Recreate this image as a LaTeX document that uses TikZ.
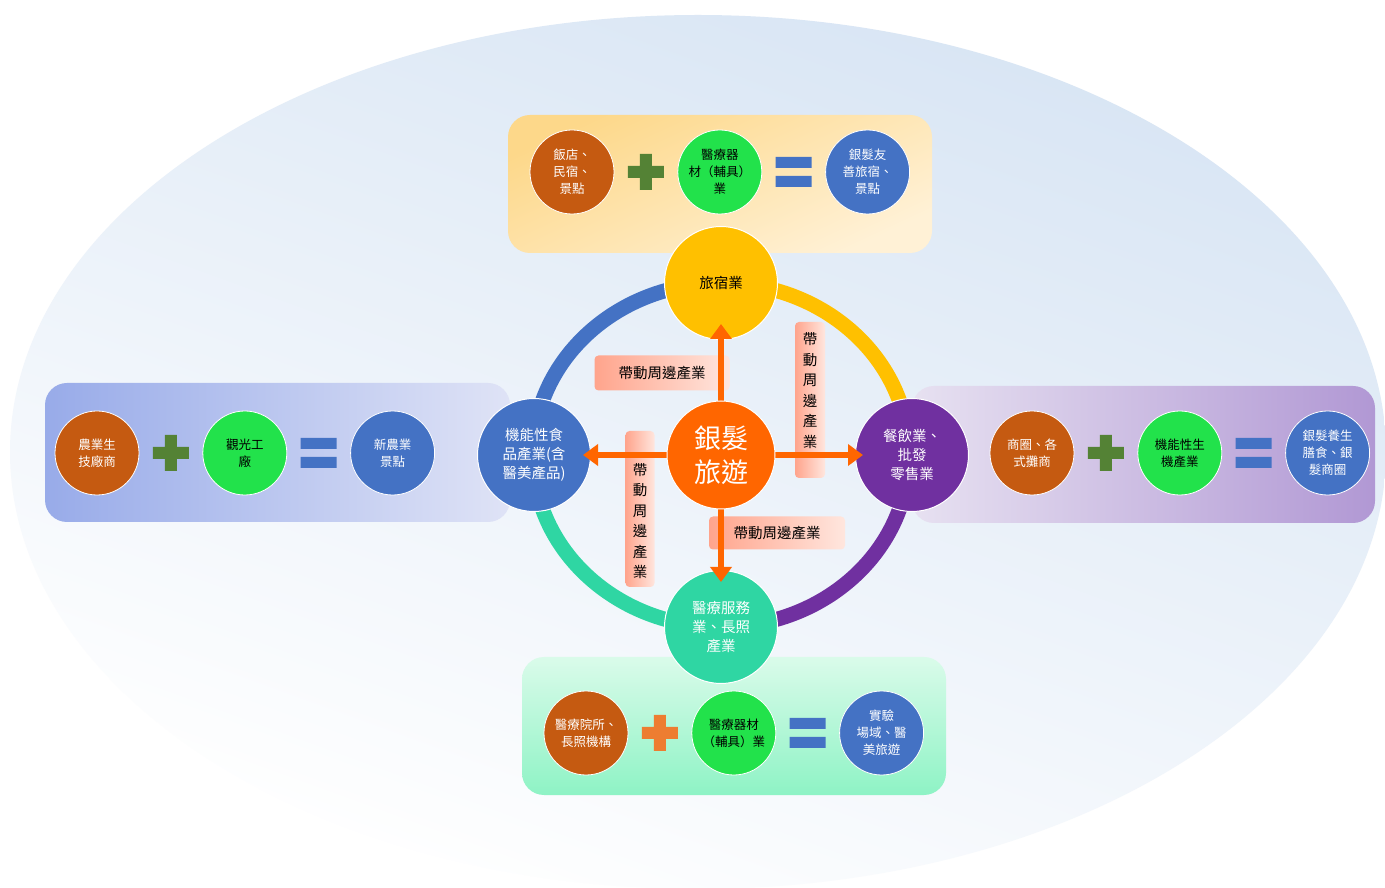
\documentclass[tikz,border=0pt]{standalone}
\usepackage{fontspec}
\setmainfont{Noto Sans CJK TC}
\usetikzlibrary{arrows.meta, positioning, calc}

\definecolor{skyA}{HTML}{D8E5F4}
\definecolor{brownC}{HTML}{C55A11}
\definecolor{greenC}{HTML}{22E24B}
\definecolor{blueC}{HTML}{4472C4}
\definecolor{plusgreen}{HTML}{548235}
\definecolor{plusorange}{HTML}{ED7D31}
\definecolor{ringgold}{HTML}{FFC000}
\definecolor{ringteal}{HTML}{2FD6A3}
\definecolor{ringpurple}{HTML}{7030A0}
\definecolor{hubor}{HTML}{FF6600}
\definecolor{tagA}{HTML}{FFA48C}
\definecolor{tagB}{HTML}{FFE6DE}
\definecolor{topA}{HTML}{FDD88A}
\definecolor{topB}{HTML}{FFF1D6}
\definecolor{leftA}{HTML}{98ABE9}
\definecolor{leftB}{HTML}{DFE3F6}
\definecolor{rightA}{HTML}{E7E1F1}
\definecolor{rightB}{HTML}{B198D4}
\definecolor{lowA}{HTML}{DAFBEA}
\definecolor{lowB}{HTML}{8EF3C5}

\tikzset{
  industry/.style={circle, draw=white, line width=1pt, minimum size=113pt, inner sep=0pt,
    align=center, text=white, font=\fontsize{14.5}{19}\selectfont},
  partner/.style={circle, draw=white, line width=0.8pt, minimum size=84pt, inner sep=0pt,
    align=center, font=\fontsize{12.5}{17}\selectfont},
  spinoff/.style={rounded corners=4pt, left color=tagA, right color=tagB, inner sep=0pt,
    align=center, font=\fontsize{14.5}{20.5}\selectfont},
  boost/.style={-{Triangle[width=21pt,length=15pt]}, line width=6pt, draw=hubor},
  panel/.style={rounded corners=22pt},
}

% plus and equals marks between two partner circles
\newcommand{\addmark}[3]{\fill[#3, shift={($(#1)!0.5!(#2)$)}] (-18,-6) rectangle (18,6) (-6,-18) rectangle (6,18);}
\newcommand{\sumark}[2]{\fill[blueC, shift={($(#1)!0.5!(#2)$)}] (-18,4) rectangle (18,15) (-18,-4) rectangle (18,-15);}

\begin{document}
\begin{tikzpicture}[x=1pt, y=1pt]
    \useasboundingbox (0,0) rectangle (1385,887);
    \clip (0,0) rectangle (1385,887);
    \fill[white] (0,0) rectangle (1385,887);

    % Background oval
    \shade[top color=skyA, bottom color=white, shading angle=-20] (698,435) ellipse [x radius=688, y radius=437];

    % Panels
    \shade[panel, top color=topA, bottom color=topB, shading angle=25] (508,634) rectangle (932,772);
    \shade[panel, left color=leftA, right color=leftB] (45,365) rectangle (510,504);
    \shade[panel, left color=rightA, right color=rightB] (912,364) rectangle (1375,501);
    \shade[panel, top color=lowA, bottom color=lowB] (522,92) rectangle (946,230);

    % Top panel
    \node[partner, fill=brownC, text=white] (hotel) at (572,715) {飯店、\\民宿、\\景點};
    \node[partner, fill=greenC, right=63pt of hotel] (aidtop) {醫療器\\材（輔具）\\業};
    \node[partner, fill=blueC, text=white, right=63pt of aidtop] (friendly) {銀髮友\\善旅宿、\\景點};
    \addmark{hotel}{aidtop}{plusgreen}
    \sumark{aidtop}{friendly}

    % Left panel
    \node[partner, fill=brownC, text=white] (agri) at (97,434) {農業生\\技廠商};
    \node[partner, fill=greenC, right=63pt of agri] (factory) {觀光工\\廠};
    \node[partner, fill=blueC, text=white, right=63pt of factory] (newagri) {新農業\\景點};
    \addmark{agri}{factory}{plusgreen}
    \sumark{factory}{newagri}

    % Right panel
    \node[partner, fill=brownC, text=white] (market) at (1032,434) {商圈、各\\式攤商};
    \node[partner, fill=greenC, right=63pt of market] (organic) {機能性生\\機產業};
    \node[partner, fill=blueC, text=white, right=63pt of organic] (diet) {銀髮養生\\膳食、銀\\髮商圈};
    \addmark{market}{organic}{plusgreen}
    \sumark{organic}{diet}

    % Bottom panel
    \node[partner, fill=brownC, text=white] (clinic) at (586,154) {醫療院所、\\長照機構};
    \node[partner, fill=greenC, right=63pt of clinic] (aidlow) {醫療器材\\（輔具）業};
    \node[partner, fill=blueC, text=white, right=63pt of aidlow] (trial) {實驗\\場域、醫\\美旅遊};
    \addmark{clinic}{aidlow}{plusorange}
    \sumark{aidlow}{trial}

    % Ring
    \coordinate (hubc) at (721,432);
    \foreach \a/\c in {0/ringgold, 90/blueC, 180/ringteal, 270/ringpurple}
        \draw[line width=15pt, \c] ($(hubc)+(\a:188 and 172)$) arc[start angle=\a, end angle=\a+90, x radius=188, y radius=172];

    % Industries on the ring
    \node[industry, fill=ringgold, text=black] (lodging) at (721,604) {旅宿業};
    \node[industry, fill=blueC] (food) at (534,432) {機能性食\\品產業(含\\醫美產品)};
    \node[industry, fill=ringpurple] (dining) at (912,432) {餐飲業、\\批發\\零售業};
    \node[industry, fill=ringteal] (care) at (721,260) {醫療服務\\業、長照\\產業};

    % Spin-off labels
    \node[spinoff, minimum width=135pt, minimum height=35pt] (tagup) at (662,514) {帶動周邊產業};
    \node[spinoff, minimum width=30pt, minimum height=156pt] (tagright) at (810,487) {帶\\動\\周\\邊\\產\\業\rule[-20pt]{0pt}{20pt}};
    \node[spinoff, minimum width=136pt, minimum height=33pt] (tagdown) at (777,354) {帶動周邊產業};
    \node[spinoff, minimum width=29pt, minimum height=156pt] (tagleft) at (640,378) {\rule{0pt}{36pt}帶\\動\\周\\邊\\產\\業};

    % Arrows
    \draw[boost] (hubc) -- ([yshift=16pt]lodging.south);
    \draw[boost] (hubc) -- ([xshift=-8pt]food.east);
    \draw[boost] (hubc) -- ([xshift=8pt]dining.west);
    \draw[boost] (hubc) -- ([yshift=-12pt]care.north);

    % Hub
    \node[circle, fill=hubor, draw=white, line width=1pt, minimum size=108pt, inner sep=0pt,
        align=center, text=white, font=\fontsize{27}{34}\selectfont] (hub) at (hubc) {銀髮\\旅遊};

\end{tikzpicture}
\end{document}
